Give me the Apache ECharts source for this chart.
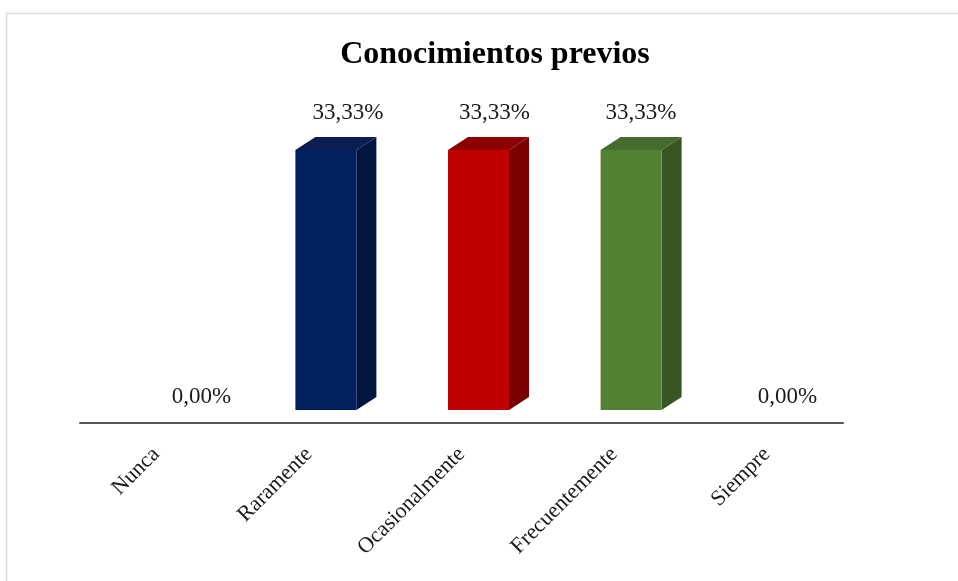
<!DOCTYPE html>
<html>
<head>
<meta charset="utf-8">
<script src="https://cdn.jsdelivr.net/npm/echarts@6/dist/echarts.min.js"></script>
<style>
  html, body { margin: 0; padding: 0; background: #fff; }
  #chart { width: 958px; height: 581px; }
</style>
</head>
<body>
<div id="chart"></div>
<script>
// Categories and percentages
var categories = ['Nunca', 'Raramente', 'Ocasionalmente', 'Frecuentemente', 'Siempre'];
var values = [0, 33.33, 33.33, 33.33, 0];
var titleText = 'Conocimientos previos';

// Face colours per category: front, side, top
var frontColors = ['#002060', '#002060', '#C00000', '#548235', '#548235'];
var sideColors  = ['#00163F', '#00163F', '#7A0000', '#375623', '#375623'];
var topColors   = ['#0B1E52', '#0B1E52', '#8E0000', '#456C2C', '#456C2C'];

var FONT = '"Liberation Serif", "Times New Roman", serif';
var chart = echarts.init(document.getElementById('chart'), null, { renderer: 'canvas' });

function fmt(v) { return v.toFixed(2).replace('.', ',') + '%'; }

// Draws a pseudo-3D column: front face, right side face and top face,
// plus its value label (labels converge slightly toward the plot centre).
function renderColumn(params, api) {
  var idx = api.value(0);
  var val = api.value(1);
  var base = api.coord([idx, 0]);
  var top = api.coord([idx, val]);
  var plotMid = params.coordSys.x + params.coordSys.width / 2;
  var cx = base[0] + 17;
  var w = 61, dx = 20, dy = -13;
  var x0 = cx - w / 2, x1 = cx + w / 2;
  var yb = base[1], yt = top[1];
  var children = [];
  if (val > 0) {
    children.push({
      type: 'polygon',
      shape: { points: [[x1, yb], [x1 + dx, yb + dy], [x1 + dx, yt + dy], [x1, yt]] },
      style: { fill: sideColors[idx] }
    });
    children.push({
      type: 'polygon',
      shape: { points: [[x0, yt], [x0 + dx, yt + dy], [x1 + dx, yt + dy], [x1, yt]] },
      style: { fill: topColors[idx] }
    });
    children.push({
      type: 'rect',
      shape: { x: x0, y: yt, width: w, height: yb - yt },
      style: { fill: frontColors[idx] }
    });
  }
  var labelX = plotMid + (base[0] - plotMid) * 0.96 + 33;
  var labelY = val > 0 ? yt + dy - 24 : yt + dy;
  children.push({
    type: 'text',
    style: {
      x: labelX, y: labelY,
      text: fmt(val),
      fill: '#1a1a1a',
      font: '23px ' + FONT,
      align: 'center', verticalAlign: 'middle'
    }
  });
  return { type: 'group', children: children };
}

var option = {
  backgroundColor: '#ffffff',
  animation: false,
  title: {
    text: titleText,
    left: 490, top: 34,
    textAlign: 'center',
    textStyle: { fontFamily: FONT, fontSize: 32, fontWeight: 'bold', color: '#000' }
  },
  graphic: [{
    type: 'rect',
    left: 4, top: 11,
    shape: { width: 1000, height: 620 },
    style: { fill: 'none', stroke: '#D9DCE3', lineWidth: 1.5 },
    silent: true, z: -1
  }],
  grid: { left: 80, right: 115, top: 98, bottom: 171 },
  xAxis: {
    type: 'category',
    data: categories,
    offset: 13,
    axisLine: { show: true, onZero: false, lineStyle: { color: '#555555', width: 2 } },
    axisTick: { show: false },
    axisLabel: {
      rotate: 45,
      margin: 28,
      fontFamily: FONT,
      fontSize: 22,
      color: '#1a1a1a'
    }
  },
  yAxis: {
    type: 'value',
    min: 0, max: 40,
    show: false
  },
  series: [{
    type: 'custom',
    renderItem: renderColumn,
    data: values.map(function (v, i) { return [i, v]; }),
    encode: { x: 0, y: 1 },
    clip: false
  }]
};
chart.setOption(option);
</script>
</body>
</html>
